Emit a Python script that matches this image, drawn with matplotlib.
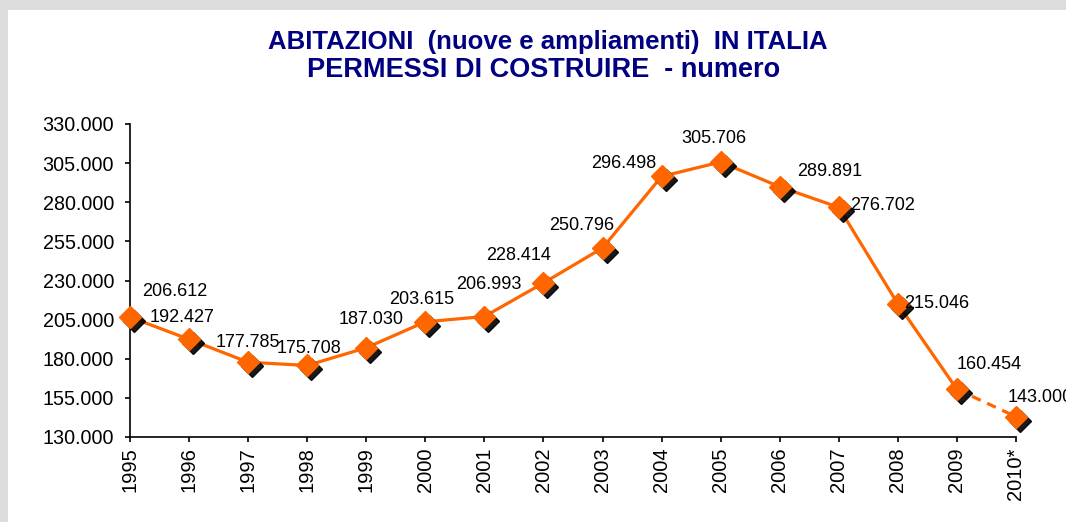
import matplotlib
matplotlib.use("Agg")
import matplotlib.pyplot as plt
import matplotlib.transforms as mtransforms
from matplotlib.patches import Rectangle

years = ["1995", "1996", "1997", "1998", "1999", "2000", "2001", "2002",
         "2003", "2004", "2005", "2006", "2007", "2008", "2009", "2010*"]
values = [206612, 192427, 177785, 175708, 187030, 203615, 206993, 228414,
          250796, 296498, 305706, 289891, 276702, 215046, 160454, 143000]
value_labels = ["206.612", "192.427", "177.785", "175.708", "187.030", "203.615",
                "206.993", "228.414", "250.796", "296.498", "305.706", "289.891",
                "276.702", "215.046", "160.454", "143.000"]
ytick_vals = [130000, 155000, 180000, 205000, 230000, 255000, 280000, 305000, 330000]
ytick_labels = ["130.000", "155.000", "180.000", "205.000", "230.000",
                "255.000", "280.000", "305.000", "330.000"]

# label offsets in pixels (dx, dy up)
label_offsets = [(45, 26), (-7, 22), (0, 20), (2, 17), (5, 28), (-4, 22),
                 (4, 32), (-25, 27), (-21, 22), (-38, 13), (-7, 24), (50, 15),
                 (44, 2), (39, 0), (32, 25), (24, 19)]

W, H = 1066, 522
fig = plt.figure(figsize=(W / 100, H / 100), dpi=100, facecolor="#DCDCDC")
fig.patches.append(Rectangle((8 / W, 0), 1 - 8 / W, 1 - 10 / H,
                             transform=fig.transFigure, facecolor="white",
                             edgecolor="none", zorder=-5))

ax = fig.add_axes([130 / W, 1 - 437 / H, (1016 - 130) / W, (437 - 124) / H])
ax.set_facecolor("none")
x = list(range(len(years)))
orange = "#FF6600"

ax.plot(x[:-1], values[:-1], color=orange, lw=2.3, zorder=3, clip_on=False)
ax.plot(x[-2:], values[-2:], color=orange, lw=2.3, ls=(0, (3, 2.2)), zorder=3, clip_on=False)

shadow = mtransforms.offset_copy(ax.transData, fig=fig, x=4, y=-4, units="dots")
ax.plot(x, values, ls="none", marker="D", ms=11, color="black", mec="black",
        transform=shadow, zorder=4, clip_on=False, alpha=0.9)
ax.plot(x, values, ls="none", marker="D", ms=11.5, color=orange, mec=orange,
        zorder=5, clip_on=False)

for xi, v, lab, (dx, dy) in zip(x, values, value_labels, label_offsets):
    ax.annotate(lab, (xi, v), xytext=(dx * 0.72, dy * 0.72), textcoords="offset points",
                ha="center", va="center", fontsize=13, family="Liberation Sans",
                color="black", zorder=6, annotation_clip=False)

ax.set_xlim(0, len(years) - 1)
ax.set_ylim(130000, 330000)
ax.set_yticks(ytick_vals)
ax.set_yticklabels(ytick_labels, fontsize=14.2, family="Liberation Sans")
ax.set_xticks(x)
ax.set_xticklabels(years, rotation=90, fontsize=14.5, family="Liberation Sans")
for s in ["top", "right"]:
    ax.spines[s].set_visible(False)
for s in ["left", "bottom"]:
    ax.spines[s].set_linewidth(1.2)
ax.tick_params(direction="out", length=3.5, width=1.2)
ax.tick_params(axis="y", pad=8)
ax.tick_params(axis="x", pad=4)

fig.text(548 / W, 1 - 42 / H, "ABITAZIONI  (nuove e ampliamenti)  IN ITALIA",
         ha="center", va="center", fontsize=18.5, fontweight="bold",
         color="#000080", family="Liberation Sans")
fig.text(544 / W, 1 - 70 / H, "PERMESSI DI COSTRUIRE  - numero",
         ha="center", va="center", fontsize=19.5, fontweight="bold",
         color="#000080", family="Liberation Sans")

fig.savefig("out.png", dpi=100, facecolor=fig.get_facecolor())
